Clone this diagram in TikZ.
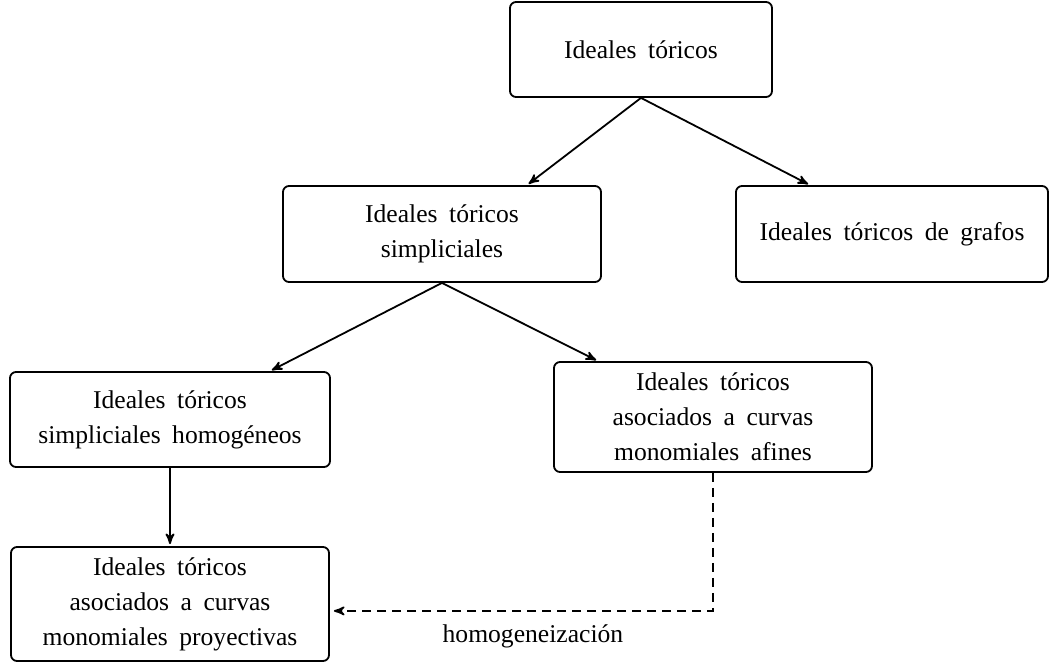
\documentclass[tikz,border=0pt]{standalone}
\usepackage{fontspec}
\setmainfont[WordSpace=1.8]{Liberation Serif}
\usetikzlibrary{arrows}

\tikzset{
  caja/.style={draw, line width=0.9pt, rounded corners=3pt, align=center, font=\fontsize{12.8}{17.5}\selectfont,
    minimum width=159pt, minimum height=48pt, inner sep=2pt},
  flecha/.style={->, >=stealth', line width=0.9pt, shorten >=1pt},
}

\begin{document}
\begin{tikzpicture}[x=0.5pt,y=-0.5pt]
\useasboundingbox (0,0) rectangle (1050,664);

\node[caja, minimum width=131pt, minimum height=47.5pt] (toricos) at (641,49.5) {Ideales tóricos};
\node[caja] (simp) at (442,234) {Ideales tóricos\\simpliciales};
\node[caja, minimum width=156pt] (grafos) at (892,234) {Ideales tóricos de grafos};
\node[caja, minimum width=160pt, minimum height=47.5pt] (homog) at (170,419.5) {Ideales tóricos\\simpliciales homogéneos};
\node[caja, minimum height=55pt] (afines) at (713,417) {Ideales tóricos\\asociados a curvas\\monomiales afines};
\node[caja, minimum height=57pt] (proy) at (170,604) {Ideales tóricos\\asociados a curvas\\monomiales proyectivas};

\draw[flecha] (toricos.south) -- ([xshift=42.5pt]simp.north);
\draw[flecha] (toricos.south) -- ([xshift=-41pt]grafos.north);

\draw[flecha] (simp.south) -- ([xshift=50pt]homog.north);
\draw[flecha] (simp.south) -- ([xshift=-57.5pt]afines.north);

\draw[flecha] (homog.south) -- (proy.north);

\draw[flecha, dash pattern=on 4.5pt off 3pt, shorten >=2pt] (afines.south) -- ++(0,138) coordinate (esq) -- (esq -| proy.east)
  node[pos=0.47, below=3pt, font=\fontsize{12.8}{15}\selectfont] {homogeneización};

\end{tikzpicture}
\end{document}
